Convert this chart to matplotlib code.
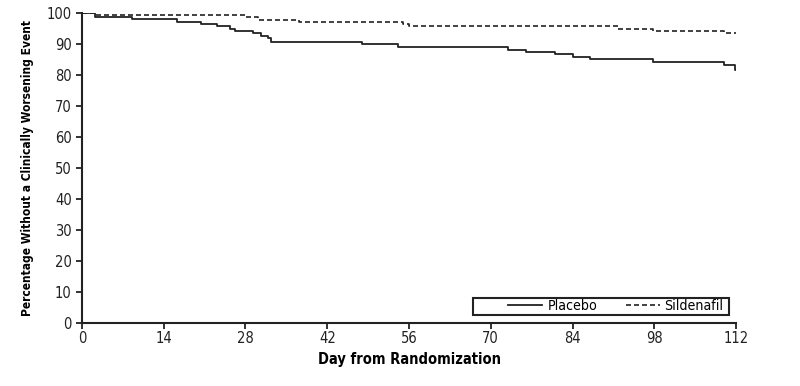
import numpy as np
import matplotlib.pyplot as plt
from matplotlib.patches import Rectangle

plt.rcParams['font.family'] = ['DejaVu Sans']
plt.rcParams['font.stretch'] = 'condensed'

# dias de inicio de cada escalon y valor del escalon (curvas Kaplan-Meier)
dias_placebo = [0, 2.2, 8.5, 16.2, 20.3, 23.1, 25.3, 26.2, 29.3, 30.6, 31.8, 32.4,
                48.0, 54.1, 73.0, 76.0, 81.0, 84.0, 87.0, 97.8, 109.9, 111.9, 112]
valor_placebo = [100, 98.8, 98.0, 97.2, 96.5, 95.7, 95.0, 94.2, 93.5, 92.7, 92.0, 90.8,
                 90.0, 89.0, 88.2, 87.5, 86.7, 85.9, 85.2, 84.3, 83.4, 81.6, 81.6]

dias_sildenafil = [0, 2.2, 27.9, 30.1, 37.1, 55.0, 56.0, 91.8, 97.8, 109.9, 112]
valor_sildenafil = [100, 99.4, 98.6, 97.9, 97.2, 96.5, 95.7, 95.0, 94.3, 93.5, 93.5]

xticks = [0, 14, 28, 42, 56, 70, 84, 98, 112]
yticks = list(range(0, 101, 10))

fig = plt.figure(figsize=(8, 3.86), dpi=100)
ax = fig.add_axes([0.1025, 0.163, 0.8175, 0.803])

ax.step(dias_placebo, valor_placebo, where='post', color='#222222', lw=1.3, label="Placebo")
ax.step(dias_sildenafil, valor_sildenafil, where='post', color='#222222', lw=1.2,
        dashes=(3, 1.8), label="Sildenafil")

ax.set_xlim(0, 112)
ax.set_ylim(0, 100)
ax.set_xticks(xticks)
ax.set_yticks(yticks)
ax.spines['top'].set_visible(False)
ax.spines['right'].set_visible(False)
for s in ['left', 'bottom']:
    ax.spines[s].set_linewidth(1.5)
    ax.spines[s].set_color('#222222')
ax.tick_params(direction='out', length=4, width=1.3, labelsize=10.5, colors='#222222')
ax.tick_params(axis='x', pad=2)

ax.set_xlabel("Day from Randomization", fontsize=10.5, fontweight='bold', labelpad=4)
ax.set_ylabel("Percentage Without a Clinically Worsening Event", fontsize=8.6,
              fontweight='bold', labelpad=9)

# caja de la leyenda
caja = Rectangle((0.598, 0.026), 0.391, 0.056, transform=ax.transAxes, fill=True,
                 facecolor='white', edgecolor='#222222', lw=1.5, zorder=4)
ax.add_patch(caja)
leg = ax.legend(loc='center left', ncol=2, frameon=False, fontsize=10.2,
                handlelength=2.4, handletextpad=0.35, columnspacing=2.0,
                borderpad=0, borderaxespad=0, bbox_to_anchor=(0.652, 0.054))
leg.set_zorder(5)

plt.savefig("out.png", dpi=100)
